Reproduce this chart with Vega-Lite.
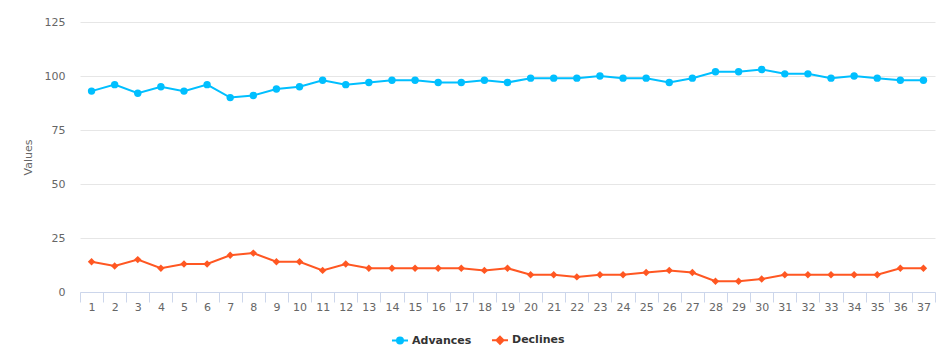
{
  "$schema": "https://vega.github.io/schema/vega-lite/v6.json",
  "width": 855,
  "height": 270,
  "autosize": {"type": "none"},
  "padding": {"left": 80, "top": 22, "right": 17, "bottom": 63},
  "background": "#ffffff",
  "config": {
    "view": {"stroke": null},
    "font": "DejaVu Sans",
    "axis": {"labelFont": "DejaVu Sans", "titleFont": "DejaVu Sans"},
    "legend": {"labelFont": "DejaVu Sans"}
  },
  "data": {
    "values": [
      {"x": 1, "series": "Advances", "value": 93},
      {"x": 2, "series": "Advances", "value": 96},
      {"x": 3, "series": "Advances", "value": 92},
      {"x": 4, "series": "Advances", "value": 95},
      {"x": 5, "series": "Advances", "value": 93},
      {"x": 6, "series": "Advances", "value": 96},
      {"x": 7, "series": "Advances", "value": 90},
      {"x": 8, "series": "Advances", "value": 91},
      {"x": 9, "series": "Advances", "value": 94},
      {"x": 10, "series": "Advances", "value": 95},
      {"x": 11, "series": "Advances", "value": 98},
      {"x": 12, "series": "Advances", "value": 96},
      {"x": 13, "series": "Advances", "value": 97},
      {"x": 14, "series": "Advances", "value": 98},
      {"x": 15, "series": "Advances", "value": 98},
      {"x": 16, "series": "Advances", "value": 97},
      {"x": 17, "series": "Advances", "value": 97},
      {"x": 18, "series": "Advances", "value": 98},
      {"x": 19, "series": "Advances", "value": 97},
      {"x": 20, "series": "Advances", "value": 99},
      {"x": 21, "series": "Advances", "value": 99},
      {"x": 22, "series": "Advances", "value": 99},
      {"x": 23, "series": "Advances", "value": 100},
      {"x": 24, "series": "Advances", "value": 99},
      {"x": 25, "series": "Advances", "value": 99},
      {"x": 26, "series": "Advances", "value": 97},
      {"x": 27, "series": "Advances", "value": 99},
      {"x": 28, "series": "Advances", "value": 102},
      {"x": 29, "series": "Advances", "value": 102},
      {"x": 30, "series": "Advances", "value": 103},
      {"x": 31, "series": "Advances", "value": 101},
      {"x": 32, "series": "Advances", "value": 101},
      {"x": 33, "series": "Advances", "value": 99},
      {"x": 34, "series": "Advances", "value": 100},
      {"x": 35, "series": "Advances", "value": 99},
      {"x": 36, "series": "Advances", "value": 98},
      {"x": 37, "series": "Advances", "value": 98},
      {"x": 1, "series": "Declines", "value": 14},
      {"x": 2, "series": "Declines", "value": 12},
      {"x": 3, "series": "Declines", "value": 15},
      {"x": 4, "series": "Declines", "value": 11},
      {"x": 5, "series": "Declines", "value": 13},
      {"x": 6, "series": "Declines", "value": 13},
      {"x": 7, "series": "Declines", "value": 17},
      {"x": 8, "series": "Declines", "value": 18},
      {"x": 9, "series": "Declines", "value": 14},
      {"x": 10, "series": "Declines", "value": 14},
      {"x": 11, "series": "Declines", "value": 10},
      {"x": 12, "series": "Declines", "value": 13},
      {"x": 13, "series": "Declines", "value": 11},
      {"x": 14, "series": "Declines", "value": 11},
      {"x": 15, "series": "Declines", "value": 11},
      {"x": 16, "series": "Declines", "value": 11},
      {"x": 17, "series": "Declines", "value": 11},
      {"x": 18, "series": "Declines", "value": 10},
      {"x": 19, "series": "Declines", "value": 11},
      {"x": 20, "series": "Declines", "value": 8},
      {"x": 21, "series": "Declines", "value": 8},
      {"x": 22, "series": "Declines", "value": 7},
      {"x": 23, "series": "Declines", "value": 8},
      {"x": 24, "series": "Declines", "value": 8},
      {"x": 25, "series": "Declines", "value": 9},
      {"x": 26, "series": "Declines", "value": 10},
      {"x": 27, "series": "Declines", "value": 9},
      {"x": 28, "series": "Declines", "value": 5},
      {"x": 29, "series": "Declines", "value": 5},
      {"x": 30, "series": "Declines", "value": 6},
      {"x": 31, "series": "Declines", "value": 8},
      {"x": 32, "series": "Declines", "value": 8},
      {"x": 33, "series": "Declines", "value": 8},
      {"x": 34, "series": "Declines", "value": 8},
      {"x": 35, "series": "Declines", "value": 8},
      {"x": 36, "series": "Declines", "value": 11},
      {"x": 37, "series": "Declines", "value": 11}
    ]
  },
  "encoding": {
    "x": {
      "field": "x",
      "type": "ordinal",
      "scale": {"type": "band", "paddingInner": 0, "paddingOuter": 0},
      "axis": {
        "title": null,
        "labelAngle": 0,
        "tickBand": "extent",
        "domainColor": "#ccd6eb",
        "tickColor": "#ccd6eb",
        "tickSize": 10,
        "labelColor": "#666666",
        "labelFontSize": 11,
        "labelPadding": -1,
        "grid": false
      }
    },
    "y": {
      "field": "value",
      "type": "quantitative",
      "scale": {"domain": [0, 125], "nice": false},
      "axis": {
        "title": "Values",
        "values": [0, 25, 50, 75, 100, 125],
        "domain": false,
        "ticks": false,
        "grid": true,
        "gridColor": "#e6e6e6",
        "labelColor": "#666666",
        "labelFontSize": 11,
        "labelPadding": 15,
        "titleColor": "#666666",
        "titleFontSize": 11,
        "titleFontWeight": "normal",
        "titlePadding": 11
      }
    },
    "color": {
      "field": "series",
      "type": "nominal",
      "scale": {"domain": ["Advances", "Declines"], "range": ["#00bfff", "#ff5722"]},
      "legend": {
        "title": null,
        "orient": "none",
        "direction": "horizontal",
        "legendX": 314,
        "legendY": 312,
        "padding": 0,
        "symbolSize": 100,
        "labelOffset": 6,
        "columnPadding": 16,
        "labelFontSize": 11,
        "labelFontWeight": "bold",
        "labelColor": "#333333",
        "encode": {
          "symbols": {
            "update": {
              "shape": {"signal": "datum.value === 'Advances' ? 'M-1.6,0H1.6M-0.6,0A0.6,0.6 0 1,1 0.6,0A0.6,0.6 0 1,1 -0.6,0Z' : 'M-1.6,0H1.6M0,-0.7L0.7,0L0,0.7L-0.7,0Z'"},
              "fill": {"scale": "color", "field": "value"},
              "stroke": {"scale": "color", "field": "value"},
              "strokeWidth": {"value": 2},
              "fillOpacity": {"value": 1},
              "opacity": {"value": 1}
            }
          }
        }
      }
    }
  },
  "layer": [
    {"mark": {"type": "line", "strokeWidth": 2}},
    {
      "transform": [{"filter": "datum.series === 'Advances'"}],
      "mark": {"type": "point", "shape": "circle", "filled": true, "opacity": 1, "size": 55}
    },
    {
      "transform": [{"filter": "datum.series === 'Declines'"}],
      "mark": {"type": "point", "shape": "diamond", "filled": true, "opacity": 1, "size": 55}
    }
  ]
}
